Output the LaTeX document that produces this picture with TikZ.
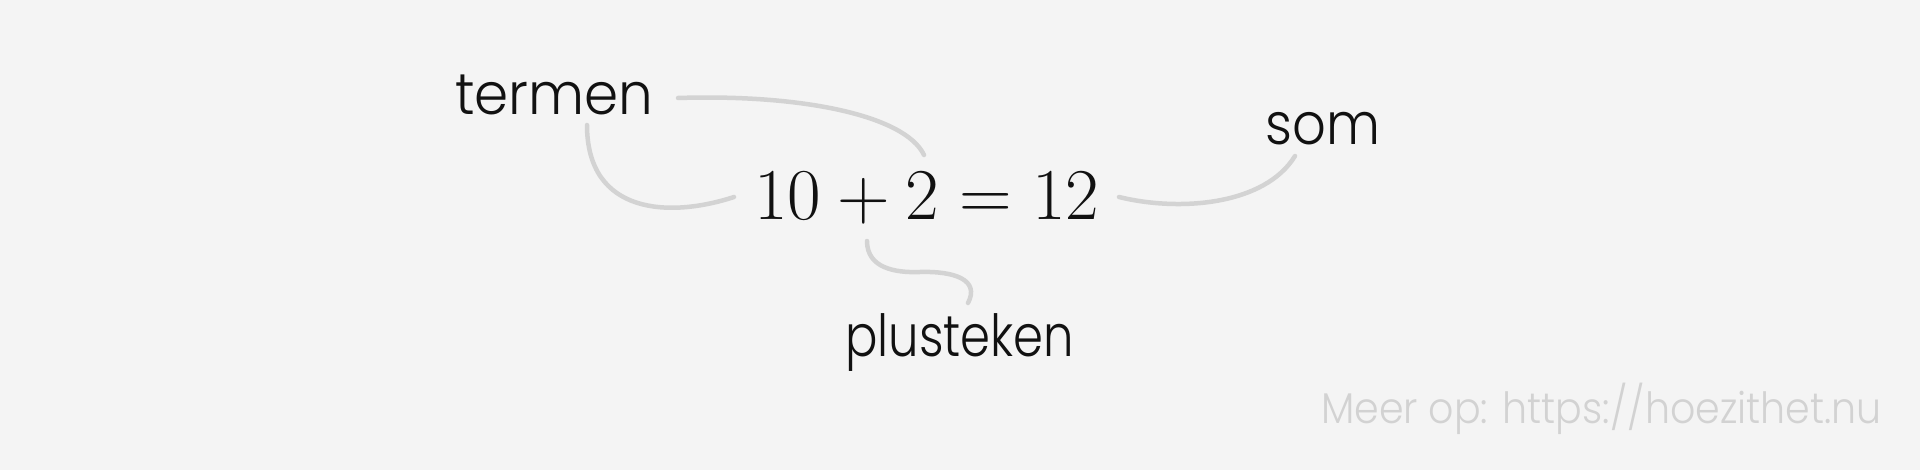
\RequirePackage{fix-cm}
\documentclass[tikz,border=0pt]{standalone}
\usepackage{graphicx}
\usepackage{fontspec}
\newfontfamily\lbl{Poppins Light}
\newcommand\sqz[2]{\scalebox{#1}[1]{#2}}
\definecolor{bg}{HTML}{F4F4F4}
\definecolor{curve}{HTML}{D3D3D3}
\definecolor{wm}{HTML}{D2D2D2}
\definecolor{ink}{HTML}{111111}
\begin{document}
\begin{tikzpicture}[x=1pt,y=-1pt,
  lab/.style={inner sep=0pt,anchor=base west,text=ink,font=\lbl\fontsize{58}{70}\selectfont},
  eqn/.style={inner sep=0pt,anchor=base west,text=ink,font=\fontsize{73}{88}\selectfont},
  wmark/.style={inner sep=0pt,anchor=base west,text=wm,font=\lbl\fontsize{43}{52}\selectfont},
  conn/.style={draw=curve,line width=4.5pt,line cap=round}]
\fill[bg] (0,0) rectangle (1920,470);
\useasboundingbox (0,0) rectangle (1920,470);
\node[lab] (termen) at (455,115) {\sqz{0.945}{termen}};
\node[eqn] (eq) at (754,220) {$10+2=12$};
\node[lab] (som) at (1265,145) {\sqz{0.91}{som}};
\node[lab] (plus) at (845,356) {\sqz{0.83}{plusteken}};
\node[wmark] (wmk) at (1321,423) {\sqz{0.92}{Meer op: https://hoezithet.nu}};
\coordinate (t1) at (678,98);
\coordinate (e1) at (924,155);
\coordinate (t2) at (587,125);
\coordinate (e2) at (734,197);
\coordinate (e3) at (867,241);
\coordinate (p3) at (968,303);
\coordinate (e4) at (1119,197);
\coordinate (s4) at (1295,156);
\draw[conn] (t1) .. controls (800,94) and (905,115) .. (e1);
\draw[conn] (t2) .. controls (587,215) and (670,218) .. (e2);
\draw[conn] (e3) .. controls (867,268) and (895,273) .. (920,272) .. controls (955,271) and (980,280) .. (p3);
\draw[conn] (e4) .. controls (1180,212) and (1265,205) .. (s4);
\end{tikzpicture}
\end{document}
